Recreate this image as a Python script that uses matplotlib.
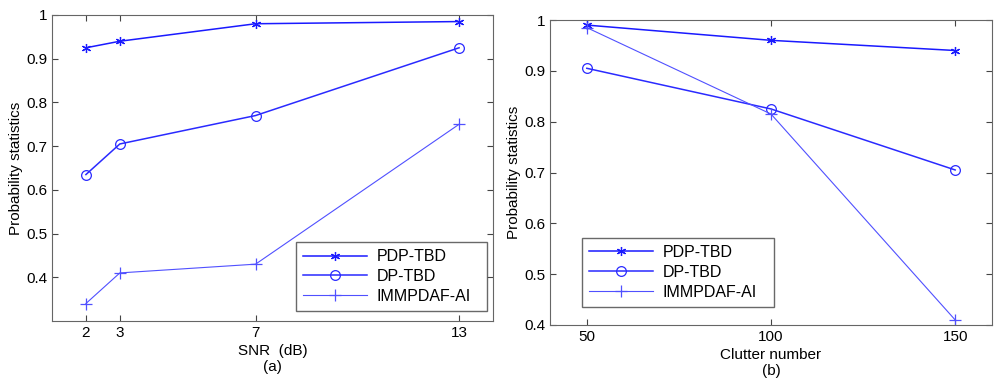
import numpy as np
import matplotlib.pyplot as plt

plt.rcParams['font.family'] = ['Liberation Sans', 'DejaVu Sans']

snr = [2, 3, 7, 13]
pdp_a = [0.925, 0.94, 0.98, 0.985]
dp_a = [0.635, 0.705, 0.77, 0.925]
imm_a = [0.34, 0.41, 0.43, 0.75]

clutter = [50, 100, 150]
pdp_b = [0.99, 0.96, 0.94]
dp_b = [0.905, 0.825, 0.705]
imm_b = [0.985, 0.815, 0.41]

labels = ['PDP-TBD', 'DP-TBD', 'IMMPDAF-AI']
yticks = [0.4, 0.5, 0.6, 0.7, 0.8, 0.9, 1]

fig = plt.figure(figsize=[10, 3.87], dpi=100)
ax1 = fig.add_axes([0.052, 1 - 321/387, 0.441, 306/387])
ax2 = fig.add_axes([0.550, 1 - 325/387, 0.442, 305/387])

def draw(ax, x, ys):
    ax.plot(x, ys[0], '-', color='#1a1aff', marker=(6, 2, 0), ms=6.5, mew=0.9, lw=1.1, label=labels[0])
    ax.plot(x, ys[1], '-', color='#2a2aff', marker='o', ms=7, mfc='none', mew=0.9, lw=1.1, label=labels[1])
    ax.plot(x, ys[2], '-', color='#5050ff', marker='+', ms=8, mew=0.9, lw=0.8, label=labels[2])
    ax.set_yticks(yticks)
    ax.set_yticklabels(['0.4', '0.5', '0.6', '0.7', '0.8', '0.9', '1'])
    ax.tick_params(direction='in', top=True, right=True, labelsize=11, length=4, color='#444444')
    for s in ax.spines.values():
        s.set_color('#666666')
    ax.set_ylabel('Probability statistics', fontsize=11, labelpad=2)

draw(ax1, snr, [pdp_a, dp_a, imm_a])
ax1.set_xlim(1, 14)
ax1.set_ylim(0.3, 1)
ax1.set_xticks(snr)
ax1.set_xlabel('SNR  (dB)\n(a)', fontsize=11, labelpad=3)
leg1 = ax1.legend(loc='lower left', bbox_to_anchor=(0.553, 0.033, 0.433, 0.225), mode='expand',
                  borderaxespad=0, fontsize=11.5, frameon=True, fancybox=False, edgecolor='#444444',
                  handlelength=4.0, handletextpad=0.6, borderpad=0.45, labelspacing=0.3)

draw(ax2, clutter, [pdp_b, dp_b, imm_b])
ax2.set_xlim(40, 160)
ax2.set_ylim(0.4, 1)
ax2.set_xticks(clutter)
ax2.set_xlabel('Clutter number\n(b)', fontsize=11, labelpad=3)
leg2 = ax2.legend(loc='lower left', bbox_to_anchor=(0.073, 0.06, 0.433, 0.225), mode='expand',
                  borderaxespad=0, fontsize=11.5, frameon=True, fancybox=False, edgecolor='#444444',
                  handlelength=4.0, handletextpad=0.6, borderpad=0.45, labelspacing=0.3)

plt.savefig('out.png')
